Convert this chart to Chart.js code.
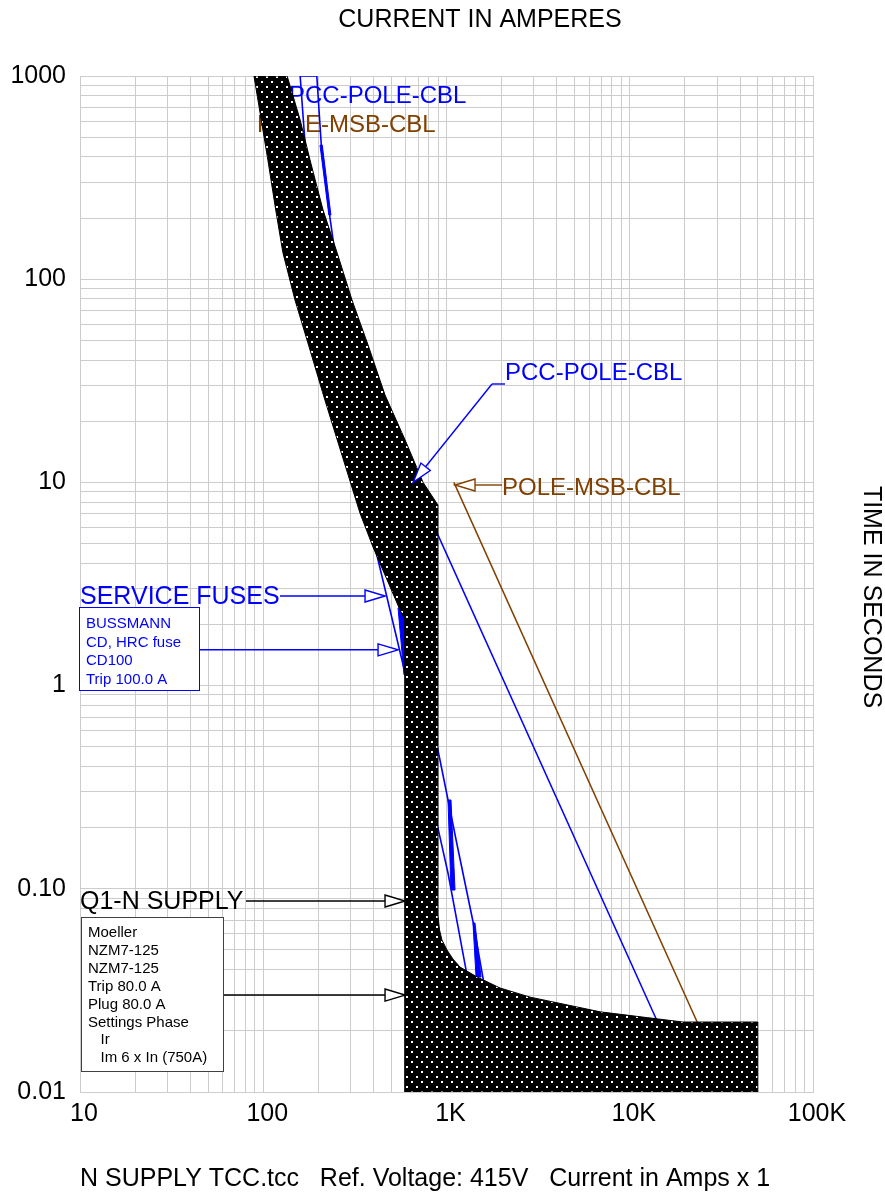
<!DOCTYPE html>
<html>
<head>
<meta charset="utf-8">
<script src="https://cdn.jsdelivr.net/npm/chart.js@4.4.1/dist/chart.umd.min.js"></script>
<style>
  html, body { margin: 0; padding: 0; background: #fff; }
  canvas { display: block; }
</style>
</head>
<body>
<canvas id="tcc" width="885" height="1193"></canvas>
<script>
// axis decades and their labels
const xDecades = [10, 100, 1000, 10000, 100000];
const xLabels = ['10', '100', '1K', '10K', '100K'];
const yDecades = [0.01, 0.1, 1, 10, 100, 1000];
const yLabels = ['0.01', '0.10', '1', '10', '100', '1000'];

// Q1-N SUPPLY (Moeller NZM7-125) band, [amps, seconds]
const breakerMin = [[89, 1000], [106, 386], [117, 219], [128, 135], [149, 79], [180, 44.8], [217, 25.4],
  [269, 13.6], [337, 7.07], [397, 4.81], [557, 2.36], [594, 2.1], [594, 0.01]];
const breakerMax = [[50000, 0.01], [50000, 0.0221], [19500, 0.0221], [6900, 0.0248], [2860, 0.0293],
  [1960, 0.0325], [1470, 0.0368], [1185, 0.0412], [1085, 0.0451], [1006, 0.05], [944, 0.056],
  [916, 0.0627], [898, 0.0743], [898, 7.74], [745, 10], [594, 16.2], [462, 26.9], [373, 47.5],
  [305, 79], [253, 135], [212, 219], [180, 386], [159, 608], [135, 1000]];

// SERVICE FUSES (Bussmann CD100)
const fuseMin = [[159, 1000], [169, 468], [175.5, 399], [407, 4.81], [594, 1.153], [898, 0.199],
  [1019, 0.1196], [1156, 0.0649], [1278, 0.0399], [1700, 0.01]];
const fuseMax = [[196, 1000], [207, 468], [231, 202], [246, 135], [898, 0.482], [1137, 0.168],
  [1400, 0.0679], [1588, 0.0356], [2034, 0.01]];
const fuseSliverA = [[204, 457], [210, 457], [234, 207], [228, 207]];
const fuseSliverB = [[544, 2.41], [610, 2.41], [610, 1.13], [586, 1.13]];
const fuseSliverC = [[1019, 0.2735], [1058, 0.2735], [1113, 0.0986], [1058, 0.0986]];
const fuseSliverD = [[1395, 0.0679], [1430, 0.0679], [1543, 0.0368], [1449, 0.0368]];

// cable damage lines
const pccCable = [[667, 10], [21090, 0.01]];
const poleCable = [[1097, 10], [34680, 0.01]];

// where the leader arrows point, [amps, seconds]
const pccTip = [657, 10];
const poleTip = [1113, 9.71];
const fuseTip = [462, 2.76];
const fuseBoxTip = [544, 1.5];
const q1Tip = [594, 0.0871];
const q1BoxTip = [594, 0.03];

const fuseBoxLines = ['BUSSMANN', 'CD, HRC fuse', 'CD100', 'Trip 100.0 A'];
const q1BoxLines = ['Moeller', 'NZM7-125', 'NZM7-125', 'Trip 80.0 A', 'Plug 80.0 A', 'Settings Phase', '   Ir', '   Im 6 x In (750A)'];

const BLUE = '#0000ff';
const BROWN = '#804000';
const FONT = '"Liberation Sans", Arial, sans-serif';

function withMinors(decades) {
  const out = [];
  decades.forEach((d, i) => {
    out.push(d);
    if (i < decades.length - 1) for (let m = 2; m <= 9; m++) out.push(d * m);
  });
  return out;
}
const toXY = pts => pts.map(p => ({x: p[0], y: p[1]}));
const closed = pts => pts.concat([pts[0]]);

const canvas = document.getElementById('tcc');
const mainCtx = canvas.getContext('2d');

// black band with white dots
function dotPattern() {
  const c = document.createElement('canvas');
  c.width = 10; c.height = 10;
  const g = c.getContext('2d');
  g.fillStyle = '#000'; g.fillRect(0, 0, 10, 10);
  g.fillStyle = '#fff';
  g.fillRect(1, 1, 2, 2);
  g.fillRect(6, 6, 2, 2);
  return mainCtx.createPattern(c, 'repeat');
}

// fills closed datasets using the points chart.js placed
const polyFill = {
  id: 'polyFill',
  beforeDatasetDraw(chart, args) {
    const ds = chart.data.datasets[args.index];
    if (!ds.polygon) return;
    const {ctx, chartArea: a} = chart;
    ctx.save();
    ctx.beginPath();
    ctx.rect(a.left, a.top, a.right - a.left, a.bottom - a.top);
    ctx.clip();
    ctx.beginPath();
    args.meta.data.forEach((p, i) => i ? ctx.lineTo(p.x, p.y) : ctx.moveTo(p.x, p.y));
    ctx.closePath();
    ctx.fillStyle = ds.polygonFill;
    ctx.fill();
    ctx.restore();
  }
};

function arrow(ctx, x0, y0, x1, y1, color) {
  const ang = Math.atan2(y1 - y0, x1 - x0), len = 20, hw = 6;
  const bx = x1 - len * Math.cos(ang), by = y1 - len * Math.sin(ang);
  ctx.strokeStyle = color;
  ctx.lineWidth = 1.4;
  ctx.beginPath(); ctx.moveTo(x0, y0); ctx.lineTo(bx, by); ctx.stroke();
  ctx.beginPath();
  ctx.moveTo(x1, y1);
  ctx.lineTo(bx - hw * Math.sin(ang), by + hw * Math.cos(ang));
  ctx.lineTo(bx + hw * Math.sin(ang), by - hw * Math.cos(ang));
  ctx.closePath();
  ctx.fillStyle = '#fff';
  ctx.fill();
  ctx.stroke();
}

function textBox(ctx, x, y, w, h, color, border) {
  ctx.fillStyle = '#fff';
  ctx.fillRect(x, y, w, h);
  ctx.strokeStyle = border;
  ctx.lineWidth = 1;
  ctx.strokeRect(x + 0.5, y + 0.5, w, h);
  ctx.fillStyle = color;
  ctx.font = '15px ' + FONT;
  ctx.textAlign = 'left';
  ctx.textBaseline = 'alphabetic';
}

const annotations = {
  id: 'annotations',
  beforeDatasetsDraw(chart) {
    const ctx = chart.ctx;
    ctx.save();
    ctx.font = '24px ' + FONT;
    ctx.textAlign = 'left';
    ctx.textBaseline = 'alphabetic';
    ctx.fillStyle = BLUE;
    ctx.fillText('PCC-POLE-CBL', 289, 103);
    ctx.fillStyle = BROWN;
    ctx.fillText('POLE-MSB-CBL', 257, 132);
    ctx.restore();
  },
  afterDatasetsDraw(chart) {
    const ctx = chart.ctx;
    const px = p => [chart.scales.x.getPixelForValue(p[0]), chart.scales.y.getPixelForValue(p[1])];
    ctx.save();

    // PCC-POLE-CBL
    let t = px(pccTip);
    ctx.strokeStyle = BLUE; ctx.lineWidth = 1.4;
    ctx.beginPath(); ctx.moveTo(505, 384); ctx.lineTo(492, 384); ctx.stroke();
    arrow(ctx, 492, 384, t[0], t[1], BLUE);
    ctx.font = '24px ' + FONT;
    ctx.fillStyle = BLUE;
    ctx.fillText('PCC-POLE-CBL', 505, 380);

    // POLE-MSB-CBL
    t = px(poleTip);
    arrow(ctx, 502, t[1], t[0], t[1], BROWN);
    ctx.fillStyle = BROWN;
    ctx.fillText('POLE-MSB-CBL', 502, 495);

    // SERVICE FUSES
    t = px(fuseTip);
    arrow(ctx, 280, t[1], t[0], t[1], BLUE);
    ctx.font = '25px ' + FONT;
    ctx.fillStyle = BLUE;
    ctx.fillText('SERVICE FUSES', 80, 604);
    t = px(fuseBoxTip);
    arrow(ctx, 199, t[1], t[0], t[1], BLUE);
    textBox(ctx, 79, 607, 120, 83, BLUE, BLUE);
    fuseBoxLines.forEach((s, i) => ctx.fillText(s, 86, 628 + i * 18.5));

    // Q1-N SUPPLY
    t = px(q1Tip);
    arrow(ctx, 246, t[1], t[0], t[1], '#000');
    ctx.font = '25px ' + FONT;
    ctx.fillStyle = '#000';
    ctx.fillText('Q1-N SUPPLY', 80, 909);
    t = px(q1BoxTip);
    arrow(ctx, 223, t[1], t[0], t[1], '#000');
    textBox(ctx, 81, 917, 142, 154, '#000', '#404040');
    q1BoxLines.forEach((s, i) => ctx.fillText(s, 88, 937 + i * 17.9));

    ctx.restore();
  },
  afterDraw(chart) {
    const ctx = chart.ctx;
    ctx.save();
    ctx.fillStyle = '#000';
    ctx.font = '25px ' + FONT;
    ctx.textAlign = 'center';
    ctx.textBaseline = 'alphabetic';
    ctx.fillText('CURRENT IN AMPERES', 480, 27);
    ctx.textAlign = 'left';
    ctx.fillText('N SUPPLY TCC.tcc   Ref. Voltage: 415V   Current in Amps x 1', 80, 1186);
    ctx.translate(871, 597);
    ctx.rotate(Math.PI / 2);
    ctx.textAlign = 'center';
    ctx.textBaseline = 'middle';
    ctx.fillText('TIME IN SECONDS', 0, 0);
    ctx.restore();
  }
};

const line = (data, color, width, extra) => Object.assign({
  data: toXY(data), borderColor: color, borderWidth: width, pointRadius: 0, fill: false, tension: 0
}, extra || {});

new Chart(canvas, {
  type: 'line',
  data: {
    datasets: [
      line(closed(breakerMin.concat(breakerMax)), '#000', 1, {polygon: true, polygonFill: dotPattern()}),
      line(closed(fuseSliverA), BLUE, 1, {polygon: true, polygonFill: BLUE}),
      line(closed(fuseSliverB), BLUE, 1, {polygon: true, polygonFill: BLUE}),
      line(closed(fuseSliverC), BLUE, 1, {polygon: true, polygonFill: BLUE}),
      line(closed(fuseSliverD), BLUE, 1, {polygon: true, polygonFill: BLUE}),
      line(fuseMin.slice().reverse().concat(fuseMax), BLUE, 1.6),
      line(pccCable, BLUE, 1.5),
      line(poleCable, BROWN, 1.5)
    ]
  },
  options: {
    responsive: false,
    animation: false,
    events: [],
    devicePixelRatio: 1,
    layout: {padding: {top: 76, right: 72, left: 0, bottom: 0}},
    plugins: {legend: {display: false}, tooltip: {enabled: false}},
    scales: {
      x: {
        type: 'logarithmic', min: 10, max: 100000,
        afterBuildTicks: s => { s.ticks = withMinors(xDecades).map(v => ({value: v})); },
        afterFit: s => { s.height = 101; },
        grid: {color: '#cccccc', drawTicks: false},
        border: {color: '#cccccc'},
        ticks: {
          autoSkip: false, maxRotation: 0, minRotation: 0, padding: 7, labelOffset: 4,
          color: '#000', font: {family: FONT, size: 25},
          callback: v => { const i = xDecades.indexOf(v); return i >= 0 ? xLabels[i] : ''; }
        }
      },
      y: {
        type: 'logarithmic', min: 0.01, max: 1000,
        afterBuildTicks: s => { s.ticks = withMinors(yDecades).map(v => ({value: v})); },
        afterFit: s => { s.width = 80; },
        grid: {color: '#cccccc', drawTicks: false},
        border: {color: '#cccccc'},
        ticks: {
          autoSkip: false, padding: 14,
          color: '#000', font: {family: FONT, size: 25},
          callback: v => { const i = yDecades.indexOf(v); return i >= 0 ? yLabels[i] : ''; }
        }
      }
    }
  },
  plugins: [polyFill, annotations]
});
</script>
</body>
</html>
